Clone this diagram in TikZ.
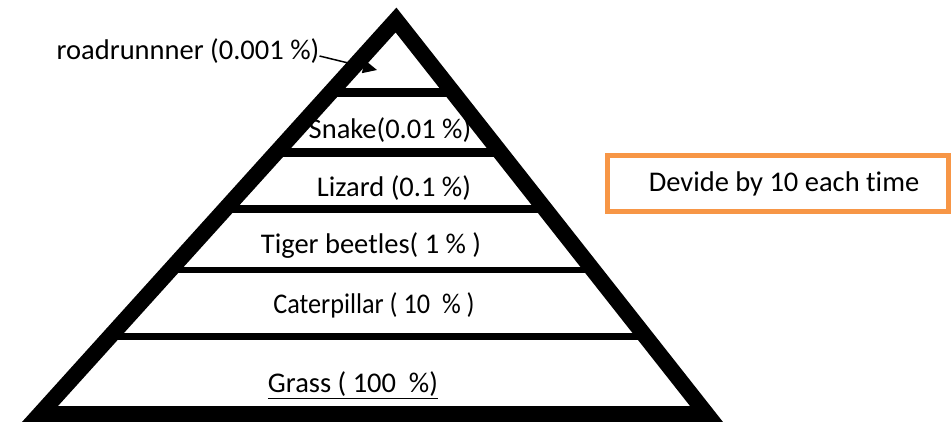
\documentclass[tikz,border=0pt]{standalone}
\usepackage{fontspec}
\setmainfont{Carlito}[Ligatures=NoCommon]
\usetikzlibrary{arrows.meta,calc}
\definecolor{boxorange}{RGB}{247,150,70}
\tikzset{
	lbl/.style={font=\fontsize{28.5}{34}\selectfont,inner sep=0pt},
	band/.style={line width=8pt},
	side/.style={line width=16pt,line join=miter},
}
\begin{document}
\begin{tikzpicture}[line cap=butt,x=1pt,y=-1pt]
		\useasboundingbox (0,0) rectangle (951,422);
		\coordinate (apex) at (396,20);
		\coordinate (bl) at (40,414);
		\coordinate (br) at (706.5,414);
		% levels of the pyramid
		\draw[band,line width=9pt] ($(apex)!0.183!(bl)$) -- ($(apex)!0.183!(br)$);
		\draw[band,line width=9pt] ($(apex)!0.337!(bl)$) -- ($(apex)!0.337!(br)$);
		\draw[band] ($(apex)!0.480!(bl)$) -- ($(apex)!0.480!(br)$);
		\draw[band,line width=6pt] ($(apex)!0.635!(bl)$) -- ($(apex)!0.635!(br)$);
		\draw[band,line width=7pt] ($(apex)!0.804!(bl)$) -- ($(apex)!0.804!(br)$);
		\draw[side] (apex) -- (bl) -- (br) -- cycle;
		\node[lbl] (rr) at (188,51) {roadrunnner (0.001 \%)};
		\coordinate (tip) at (377,70);
		\draw[line width=1.5pt,-{Triangle[length=14pt,width=13pt]}] ([yshift=-5pt]rr.east) -- (tip);
		\node[lbl] (snake) at (390,130) {Snake(0.01 \%)};
		\node[lbl] (lizard) at (394,188) {Lizard (0.1 \%)};
		\node[lbl] (tiger) at (371,246) {Tiger beetles( 1 \% )};
		\node[lbl,xscale=0.92] (cater) at (374,305) {Caterpillar ( 10 \ \% )};
		\node[lbl] (grass) at (353,385) {\underline{Grass ( 100 \ \%)}};
		\node[lbl,draw=boxorange,line width=5pt,minimum width=341pt,minimum height=56pt] (divide) at (778,183.5) {\hspace*{12pt}Devide by 10 each time};
\end{tikzpicture}
\end{document}
